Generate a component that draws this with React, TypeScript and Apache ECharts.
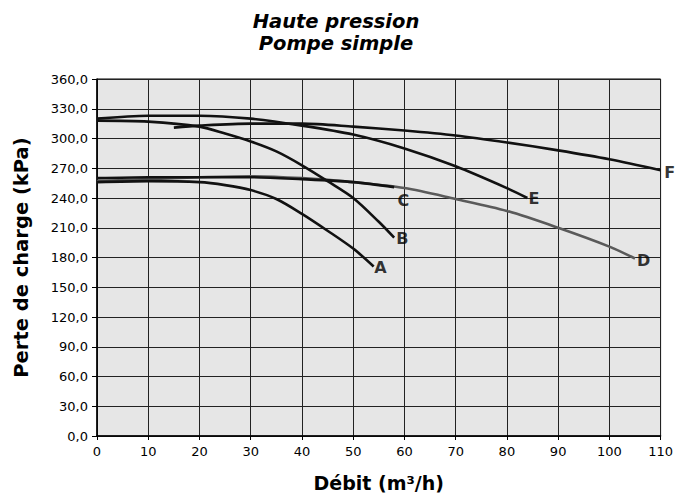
import React, { useEffect, useRef } from "react";
import * as echarts from "echarts";

const xTicks = [0, 10, 20, 30, 40, 50, 60, 70, 80, 90, 100, 110];
const yTicks = [0, 30, 60, 90, 120, 150, 180, 210, 240, 270, 300, 330, 360];

const curveA = [[0, 256], [10, 257], [20, 256], [25, 253], [30, 248], [35, 239], [40, 224], [45, 207], [50, 189], [54, 171]];
const curveB = [[0, 318], [10, 317], [20, 312], [25, 305], [30, 297], [35, 287], [40, 273], [45, 257], [50, 240], [55, 216], [58, 200]];
const curveC = [[0, 260], [10, 261], [20, 261], [30, 261], [40, 259], [50, 256], [58, 251]];
const curveD = [[0, 257], [10, 259], [20, 261], [30, 262], [40, 260], [50, 256], [60, 250], [70, 239], [80, 227], [90, 210], [100, 191], [105, 179]];
const curveE = [[0, 320], [10, 323], [20, 323], [30, 320], [40, 313], [50, 304], [60, 290], [70, 272], [80, 250], [84, 240]];
const curveF = [[15, 311], [20, 313], [30, 315], [40, 315], [50, 312], [60, 308], [70, 303], [80, 296], [90, 288], [100, 279], [110, 268]];

const labelNames = ["A", "B", "C", "D", "E", "F"];
const labelPos = [[55.3, 170], [59.6, 199], [59.8, 237], [106.7, 177], [85.3, 239], [111.8, 266]];

export default function App() {
  const ref = useRef<HTMLDivElement>(null);
  useEffect(() => {
    const chart = echarts.init(ref.current!, null, { renderer: "svg" });
    const font = "'DejaVu Sans', sans-serif";
    const mk = (data: number[][], color: string, z: number) => ({
      type: "line",
      data,
      smooth: 0.3,
      symbol: "none",
      lineStyle: { color, width: 2.6 },
      z,
    });
    chart.setOption({
      animation: false,
      title: {
        text: "Haute pression\nPompe simple",
        left: 331,
        textAlign: "center",
        top: 5,
        textStyle: { fontFamily: font, fontSize: 19.5, fontWeight: "bold", fontStyle: "italic", color: "#000", lineHeight: 22 },
      },
      grid: {
        left: 97,
        right: 14,
        top: 79,
        bottom: 60,
        show: true,
        backgroundColor: "#e6e6e6",
        borderColor: "#000",
        borderWidth: 1,
      },
      xAxis: {
        type: "value",
        min: 0,
        max: 110,
        interval: 10,
        name: "Débit (m³/h)",
        nameLocation: "middle",
        nameGap: 37,
        nameTextStyle: { fontFamily: font, fontSize: 19, fontWeight: "bold", color: "#000" },
        axisLine: { lineStyle: { color: "#000", width: 1.5 } },
        axisTick: { show: true, length: 4, lineStyle: { color: "#000" } },
        axisLabel: { fontFamily: font, fontSize: 13, color: "#000", margin: 9 },
        splitLine: { show: true, lineStyle: { color: "#222", width: 1 } },
      },
      yAxis: {
        type: "value",
        min: 0,
        max: 360,
        interval: 30,
        name: "Perte de charge (kPa)",
        nameLocation: "middle",
        nameGap: 66,
        nameTextStyle: { fontFamily: font, fontSize: 19.5, fontWeight: "bold", color: "#000" },
        axisLine: { show: true, lineStyle: { color: "#000", width: 1.5 } },
        axisTick: { show: true, length: 5, lineStyle: { color: "#000" } },
        axisLabel: {
          fontFamily: font,
          fontSize: 13,
          color: "#000",
          margin: 9,
          formatter: (v: number) => v.toFixed(1).replace(".", ","),
        },
        splitLine: { show: true, lineStyle: { color: "#222", width: 1 } },
      },
      series: [
        mk(curveD, "#5a5a5a", 2),
        mk(curveA, "#111111", 3),
        mk(curveB, "#111111", 3),
        mk(curveC, "#111111", 3),
        mk(curveE, "#111111", 3),
        mk(curveF, "#111111", 3),
        {
          type: "scatter",
          clip: false,
          data: labelPos.map((p, i) => ({ value: p, name: labelNames[i] })),
          symbolSize: 0,
          z: 5,
          label: {
            show: true,
            position: "inside",
            formatter: (p: any) => p.name,
            fontFamily: font,
            fontSize: 16,
            fontWeight: "bold",
            color: "#000",
          },
        },
      ],
    });
    return () => chart.dispose();
  }, []);
  return <div ref={ref} style={{ width: 676, height: 497, position: "absolute", left: 0, top: 0 }} />;
}
